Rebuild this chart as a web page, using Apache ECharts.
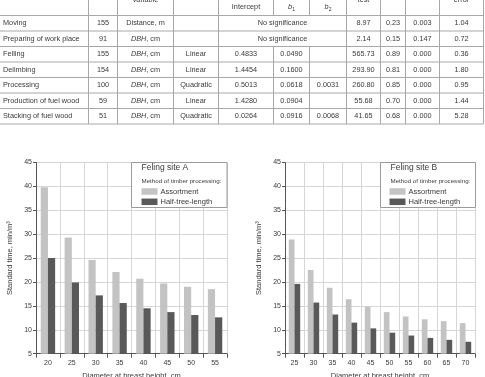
<!DOCTYPE html>
<html>
<head>
<meta charset="utf-8">
<script src="https://cdn.jsdelivr.net/npm/echarts@6/dist/echarts.min.js"></script>
<style>
  html, body { margin: 0; padding: 0; background: #fff; }
  #chart { width: 485px; height: 377px; }
</style>
</head>
<body>
<div id="chart"></div>
<script>
"use strict";

// ---- table data ----
const operations = ["Moving", "Preparing of work place", "Felling", "Delimbing", "Processing", "Production of fuel wood", "Stacking of fuel wood"];
const sampleSizes = ["155", "91", "155", "154", "100", "59", "51"];
const variables = ["Distance, m", "{i|DBH}, cm", "{i|DBH}, cm", "{i|DBH}, cm", "{i|DBH}, cm", "{i|DBH}, cm", "{i|DBH}, cm"];
const models = ["", "", "Linear", "Linear", "Quadratic", "Linear", "Quadratic"];
const intercepts = [null, null, "0.4833", "1.4454", "0.5013", "1.4280", "0.0264"];
const coefB1 = [null, null, "0.0490", "0.1600", "0.0618", "0.0904", "0.0916"];
const coefB2 = [null, null, "", "", "0.0031", "", "0.0068"];
const fTests = ["8.97", "2.14", "565.73", "293.90", "260.80", "55.68", "41.65"];
const rSquared = ["0.23", "0.15", "0.89", "0.81", "0.85", "0.70", "0.68"];
const pValues = ["0.003", "0.147", "0.000", "0.000", "0.000", "0.000", "0.000"];
const stdErrors = ["1.04", "0.72", "0.36", "1.80", "0.95", "1.44", "5.28"];

// ---- chart data ----
const dbhA = ["20", "25", "30", "35", "40", "45", "50", "55"];
const assortmentA = [39.8, 29.3, 24.6, 22.1, 20.7, 19.7, 19.0, 18.5];
const halfTreeA = [25.0, 19.9, 17.2, 15.6, 14.5, 13.7, 13.1, 12.6];

const dbhB = ["25", "30", "35", "40", "45", "50", "55", "60", "65", "70"];
const assortmentB = [28.9, 22.5, 18.8, 16.4, 14.8, 13.7, 12.8, 12.2, 11.8, 11.4];
const halfTreeB = [19.6, 15.7, 13.2, 11.5, 10.3, 9.4, 8.8, 8.3, 7.9, 7.5];

const FONT = '"Liberation Sans Narrow", "Liberation Sans", sans-serif';
const TEXT = "#3a3a3a";
const LIGHT = "#c3c3c3";
const DARK = "#595959";
const TSIZE = 7.3;

// table layout
const colEdges = [0, 88.5, 117.5, 173.5, 218.5, 273.5, 309.5, 346.5, 380.5, 405.5, 439.5, 483.5];
const rowEdges = [15.5, 31, 46.5, 62, 77.5, 93, 108.5, 124];

function line(x1, y1, x2, y2, color) {
  return {
    type: "line",
    silent: true,
    shape: { x1, y1, x2, y2 },
    style: { stroke: color || "#a8a8a8", lineWidth: 1 }
  };
}

function text(str, x, y, align, size, extra) {
  const fs = size || TSIZE;
  return {
    type: "text",
    silent: true,
    z: 10,
    x,
    y,
    style: Object.assign({
      text: str,
      fill: TEXT,
      fontSize: fs,
      fontFamily: FONT,
      align: align || "center",
      verticalAlign: "middle",
      rich: {
        i: { fontStyle: "italic", fontSize: fs, fontFamily: FONT, fill: TEXT }
      }
    }, extra || {})
  };
}

const subRich = {
  i: { fontStyle: "italic", fontSize: TSIZE, fontFamily: FONT, fill: TEXT },
  s: { fontSize: 5, fontFamily: FONT, fill: TEXT, padding: [5, 0, 0, 0] }
};

function buildTable() {
  const els = [];
  const colMid = i => (colEdges[i] + colEdges[i + 1]) / 2;

  rowEdges.forEach(y => els.push(line(0, y, colEdges[11], y)));
  colEdges.slice(1).forEach((x, k) => {
    const idx = k + 1;
    if (idx === 5 || idx === 6) {
      els.push(line(x, 0, x, rowEdges[0]));
      els.push(line(x, rowEdges[2], x, rowEdges[7]));
    } else {
      els.push(line(x, 0, x, rowEdges[7]));
    }
  });

  // header (top is clipped in the reference)
  els.push(text("variable", colMid(2), 0));
  els.push(text("test", colMid(7), 0));
  els.push(text("error", colMid(10), 0));
  els.push(text("Intercept", colMid(4), 7));
  els.push(text("{i|b}{s|1}", colMid(5), 7, "center", TSIZE, { rich: subRich }));
  els.push(text("{i|b}{s|2}", colMid(6), 7, "center", TSIZE, { rich: subRich }));

  operations.forEach((op, r) => {
    const y = (rowEdges[r] + rowEdges[r + 1]) / 2;
    els.push(text(op, 3, y, "left"));
    els.push(text(sampleSizes[r], colMid(1), y));
    els.push(text(variables[r], colMid(2), y));
    els.push(text(models[r], colMid(3), y));
    if (intercepts[r] === null) {
      els.push(text("No significance", (colEdges[4] + colEdges[7]) / 2, y));
    } else {
      els.push(text(intercepts[r], colMid(4), y));
      els.push(text(coefB1[r], colMid(5), y));
      els.push(text(coefB2[r], colMid(6), y));
    }
    els.push(text(fTests[r], colMid(7), y));
    els.push(text(rSquared[r], colMid(8), y));
    els.push(text(pValues[r], colMid(9), y));
    els.push(text(stdErrors[r], colMid(10), y));
  });
  return els;
}

function infoBox(x, w, title) {
  return [
    {
      type: "rect",
      silent: true,
      z: 3,
      shape: { x, y: 162.5, width: w, height: 45 },
      style: { fill: "#fff", stroke: "#9a9a9a", lineWidth: 1 }
    },
    text(title, x + 10, 168, "left", 8.5),
    text("Method of timber processing:", x + 10, 181, "left", 6.2)
  ];
}

function xAxisOf(data, gridIndex) {
  return {
    type: "category",
    gridIndex,
    data,
    name: "Diameter at breast height, cm",
    nameLocation: "middle",
    nameGap: 18,
    nameTextStyle: { fontSize: 7.5, fontFamily: FONT, color: TEXT },
    axisLine: { lineStyle: { color: "#555", width: 1 } },
    axisTick: { show: true, length: 4, lineStyle: { color: "#555" } },
    axisLabel: { fontSize: 7, fontFamily: FONT, color: TEXT, margin: 6 },
    splitLine: { show: true, lineStyle: { color: "#d6d6d6", width: 1 } }
  };
}

function yAxisOf(gridIndex) {
  return {
    type: "value",
    gridIndex,
    min: 5,
    max: 45,
    interval: 5,
    name: "Standard time, min/m³",
    nameLocation: "middle",
    nameGap: 22,
    nameTextStyle: { fontSize: 7.5, fontFamily: FONT, color: TEXT },
    axisLine: { show: true, lineStyle: { color: "#555", width: 1 } },
    axisTick: { show: true, length: 3, lineStyle: { color: "#555" } },
    axisLabel: { fontSize: 7, fontFamily: FONT, color: TEXT, margin: 4 },
    splitLine: { show: true, lineStyle: { color: "#d6d6d6", width: 1 } }
  };
}

function legendOf(left) {
  return {
    orient: "vertical",
    left,
    top: 187.5,
    padding: 0,
    itemWidth: 16,
    itemHeight: 6.5,
    itemGap: 2.3,
    icon: "rect",
    z: 6,
    selectedMode: false,
    textStyle: { fontSize: 7.5, fontFamily: FONT, color: TEXT, padding: [0, 0, 0, -2] },
    data: ["Assortment", "Half-tree-length"]
  };
}

function barSeries(name, data, color, idx, width) {
  return {
    name,
    type: "bar",
    xAxisIndex: idx,
    yAxisIndex: idx,
    data,
    barWidth: width,
    barGap: "0%",
    itemStyle: { color },
    emphasis: { disabled: true }
  };
}

const chart = echarts.init(document.getElementById("chart"), null, { renderer: "canvas" });

chart.setOption({
  animation: false,
  backgroundColor: "#fff",
  grid: [
    { left: 36, top: 162.5, width: 191, height: 191.2, containLabel: false, outerBoundsMode: "none" },
    { left: 285, top: 162.5, width: 190, height: 191.2, containLabel: false, outerBoundsMode: "none" }
  ],
  xAxis: [xAxisOf(dbhA, 0), xAxisOf(dbhB, 1)],
  yAxis: [yAxisOf(0), yAxisOf(1)],
  legend: [legendOf(141.5), legendOf(389.5)],
  series: [
    barSeries("Assortment", assortmentA, LIGHT, 0, 7.2),
    barSeries("Half-tree-length", halfTreeA, DARK, 0, 7.2),
    barSeries("Assortment", assortmentB, LIGHT, 1, 5.7),
    barSeries("Half-tree-length", halfTreeB, DARK, 1, 5.7)
  ],
  graphic: buildTable()
    .concat(infoBox(131.5, 95.5, "Feling site A"))
    .concat(infoBox(380.5, 95, "Feling site B"))
});
</script>
</body>
</html>
